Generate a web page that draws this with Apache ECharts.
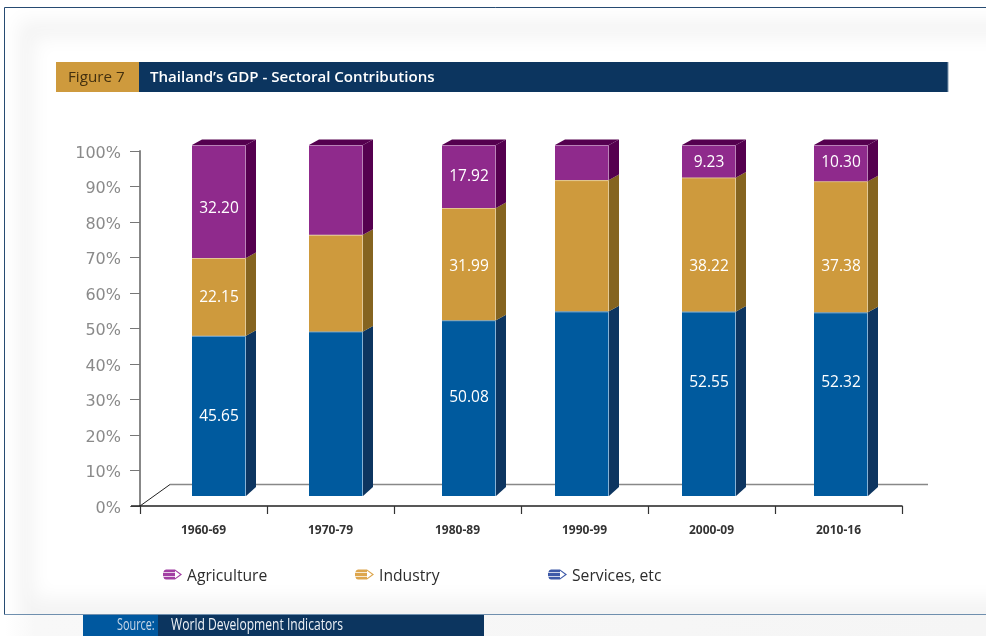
<!DOCTYPE html>
<html>
<head>
<meta charset="utf-8">
<style>html,body{margin:0;padding:0;background:#fff}#chart{width:986px;height:636px}</style>
<script src="https://cdn.jsdelivr.net/npm/echarts@6/dist/echarts.min.js"></script>
</head>
<body>
<div id="chart"></div>
<script>
// Sector shares of GDP by period, in percent
const categories = ['1960-69', '1970-79', '1980-89', '1990-99', '2000-09', '2010-16'];
const services = [45.65, 46.9, 50.08, 52.6, 52.55, 52.32];
const industry = [22.15, 27.5, 31.99, 37.4, 38.22, 37.38];
const agriculture = [32.20, 25.6, 17.92, 10.0, 9.23, 10.30];
// Periods whose columns print their values
const printed = [true, false, true, false, true, true];
const yTicks = [0, 10, 20, 30, 40, 50, 60, 70, 80, 90, 100];

// Column layout in pixels
const barWidth = 54;
const depthX = 10;
const depthY = 5.5;
const depthYBase = 9;
const barShift = [15.5, 5.5, 11.5, -2.5, -2.5, 2.5];
const labelShift = {
  'Services, etc': [1, 0, -11, 0, -21.5, -22],
  Industry: [1, 0, 3, 0, 22, 20],
  Agriculture: [7, 0, 0, 0, 1, 0]
};

const pencil = 'path://M3 0L12 0L12 2.6L0.4 2.6Q1 0 3 0ZM0 3.3L12 3.3L12 6.7L0 6.7ZM0.4 7.4L12 7.4L12 10L3 10Q1 10 0.4 7.4ZM12 0L19 5L12 10L12 8.7L17 5L12 1.3Z';

const bodyFont = '"Open Sans", "Noto Sans", sans-serif';

function stackRows(values, bases) {
  return values.map((v, i) => [i, bases[i], bases[i] + v, v]);
}
const zeros = categories.map(() => 0);
const industryBase = services.slice();
const agricultureBase = services.map((v, i) => v + industry[i]);

function columnSeries(name, rows, colors, isBase, isTop) {
  return {
    name,
    type: 'custom',
    yAxisIndex: 1,
    z: 5,
    data: rows,
    encode: { x: 0, y: [1, 2] },
    itemStyle: { color: colors.face },
    renderItem(params, api) {
      const idx = api.value(0);
      const cx = api.coord([idx, 0])[0] + barShift[idx];
      const yLow = api.coord([idx, api.value(1)])[1];
      const yHigh = api.coord([idx, api.value(2)])[1];
      const x0 = cx - barWidth / 2;
      const x1 = cx + barWidth / 2;
      const lowDepth = isBase ? depthYBase : depthY;
      const children = [{
        type: 'polygon',
        shape: { points: [[x1, yLow], [x1 + depthX, yLow - lowDepth], [x1 + depthX, yHigh - depthY], [x1, yHigh]] },
        style: { fill: colors.side }
      }];
      if (isTop) {
        children.push({
          type: 'polygon',
          shape: { points: [[x0, yHigh], [x0 + depthX, yHigh - depthY], [x1 + depthX, yHigh - depthY], [x1, yHigh]] },
          style: { fill: colors.side }
        });
      }
      children.push({
        type: 'rect',
        shape: { x: x0, y: yHigh, width: barWidth, height: yLow - yHigh },
        style: { fill: colors.face }
      });
      children.push({
        type: 'polyline',
        shape: { points: [[x0, yHigh + 0.5], [x1 - 0.5, yHigh + 0.5], [x1 - 0.5, yLow]] },
        style: { fill: 'none', stroke: colors.edge, lineWidth: 1 }
      });
      if (printed[idx]) {
        children.push({
          type: 'text',
          style: {
            text: api.value(3).toFixed(2),
            x: cx,
            y: (yLow + yHigh) / 2 + labelShift[name][idx],
            align: 'center',
            verticalAlign: 'middle',
            fill: '#fff',
            font: '500 15.5px ' + bodyFont
          }
        });
      }
      return { type: 'group', children };
    }
  };
}

// Perspective floor behind the columns
const floorSeries = {
  type: 'custom',
  z: 1,
  data: [[0, 0]],
  encode: { x: 0, y: 1 },
  renderItem(params, api) {
    const origin = api.coord([0, 0]);
    const left = params.coordSys.x;
    const right = left + params.coordSys.width;
    const backY = origin[1] - 21.5;
    return {
      type: 'group',
      children: [
        { type: 'line', shape: { x1: left - 9, y1: origin[1], x2: left, y2: origin[1] }, style: { stroke: '#222', lineWidth: 1.5 } },
        { type: 'line', shape: { x1: left, y1: origin[1], x2: left + 30, y2: backY }, style: { stroke: '#222', lineWidth: 1 } },
        { type: 'line', shape: { x1: left + 30, y1: backY, x2: right + 26, y2: backY }, style: { stroke: '#888', lineWidth: 1.5 } }
      ]
    };
  }
};

function legendFor(name, left, color) {
  return {
    left,
    top: 569,
    padding: 0,
    selectedMode: false,
    itemWidth: 19,
    itemHeight: 10,
    formatter: n => `{t|${n}}`,
    textStyle: {
      rich: { t: { color: '#2c2c2c', fontSize: 15.7, fontWeight: 500, fontFamily: bodyFont, padding: [5, 0, 0, 0] } }
    },
    data: [{ name, icon: pencil, itemStyle: { color } }]
  };
}

function bar(x, y, width, height, fill) {
  return { type: 'rect', z: -5, silent: true, shape: { x, y, width, height }, style: { fill } };
}
function caption(text, x, y, fill, font, scaleX) {
  return {
    type: 'text', z: -4, silent: true, x, y, scaleX: scaleX || 1,
    style: { text, x: 0, y: 0, fill, font, verticalAlign: 'middle', align: 'left' }
  };
}
// A blurred panel: the shape itself sits off the page and only its shadow lands on it
function softPanel(x, y, width, height, color, z) {
  const away = 3000;
  return {
    type: 'rect', z, silent: true,
    shape: { x: x - away, y, width, height },
    style: { fill: color, shadowColor: color, shadowBlur: 18, shadowOffsetX: away }
  };
}

const option = {
  animation: false,
  backgroundColor: '#fff',
  grid: { left: 140, top: 151, width: 762, height: 355 },
  xAxis: {
    type: 'category',
    data: categories,
    axisLine: { lineStyle: { color: '#222', width: 1.5 } },
    axisTick: { show: true, inside: false, interval: 0, alignWithLabel: false, length: 8, lineStyle: { color: '#333', width: 1.2 } },
    axisLabel: {
      margin: 19, color: '#333', fontSize: 12, fontWeight: 'bold',
      fontFamily: '"Noto Sans", sans-serif'
    }
  },
  yAxis: [{
    type: 'value',
    min: 0,
    max: 100,
    interval: yTicks[1] - yTicks[0],
    splitLine: { show: false },
    axisLine: { show: true, lineStyle: { color: '#888', width: 2 } },
    axisTick: { show: true, length: 10, lineStyle: { color: '#777', width: 1 } },
    axisLabel: {
      margin: 19,
      formatter: v => `{v|${v}%}`,
      rich: { v: { color: '#8a8a8a', fontSize: 16, fontFamily: '"DejaVu Sans", sans-serif', padding: [5, 0, 0, 0] } }
    }
  }, {
    // Front faces sit on a raised base line, so they use their own slightly smaller scale
    type: 'value',
    show: false,
    min: -2.849,
    max: 98.29,
    scale: true,
    splitLine: { show: false }
  }],
  legend: [
    legendFor('Agriculture', 163, '#A23FA3'),
    legendFor('Industry', 355, '#DDA64E'),
    legendFor('Services, etc', 548, '#3E5AA8')
  ],
  series: [
    floorSeries,
    columnSeries('Services, etc', stackRows(services, zeros), { face: '#005A9E', side: '#0D3560', edge: '#86b2d6' }, true, false),
    columnSeries('Industry', stackRows(industry, industryBase), { face: '#CE9A3D', side: '#856420', edge: '#e3c996' }, false, false),
    columnSeries('Agriculture', stackRows(agriculture, agricultureBase), { face: '#8F2A8C', side: '#55004F', edge: '#bb83b8' }, false, true)
  ],
  graphic: [
    // Page furniture: soft panel, frame, title strip and source strip
    softPanel(18, 20, 1000, 660, '#f4f4f4', -9),
    softPanel(34, 38, 1000, 560, '#ffffff', -8),
    { type: 'rect', z: -7, silent: true, shape: { x: 5, y: 615, width: 981, height: 21 },
      style: { fill: new echarts.graphic.LinearGradient(0, 0, 1, 0, [{ offset: 0, color: '#ffffff' }, { offset: 0.03, color: '#f8f8f8' }, { offset: 1, color: '#f5f5f5' }]) } },
    { type: 'polyline', z: -6, silent: true, shape: { points: [[986, 7.5], [4.5, 7.5], [4.5, 614.5]] },
      style: { fill: 'none', stroke: '#264b72', lineWidth: 1 } },
    { type: 'line', z: -6, silent: true, shape: { x1: 4, y1: 614.5, x2: 986, y2: 614.5 },
      style: { stroke: '#6f8fae', lineWidth: 1 } },
    bar(56, 62, 83, 30, '#CE9A3D'),
    bar(139, 62, 809, 30, '#0C355F'),
    bar(947.5, 62, 1, 30, '#7f97b0'),
    bar(83, 615, 75, 21, '#00589F'),
    bar(158, 615, 326, 21, '#0C355F'),
    caption('Figure 7', 68, 77.5, '#43300f', '15.2px ' + bodyFont),
    caption('Thailand\u2019s GDP - Sectoral Contributions', 150, 77.5, '#fff', '600 15.1px ' + bodyFont),
    caption('Source:', 117, 626, '#c9d8e8', '15.5px ' + bodyFont, 0.7),
    caption('World Development Indicators', 171, 626, '#eef2f6', '15.5px ' + bodyFont, 0.78)
  ]
};

echarts.init(document.getElementById('chart')).setOption(option);
</script>
</body>
</html>
